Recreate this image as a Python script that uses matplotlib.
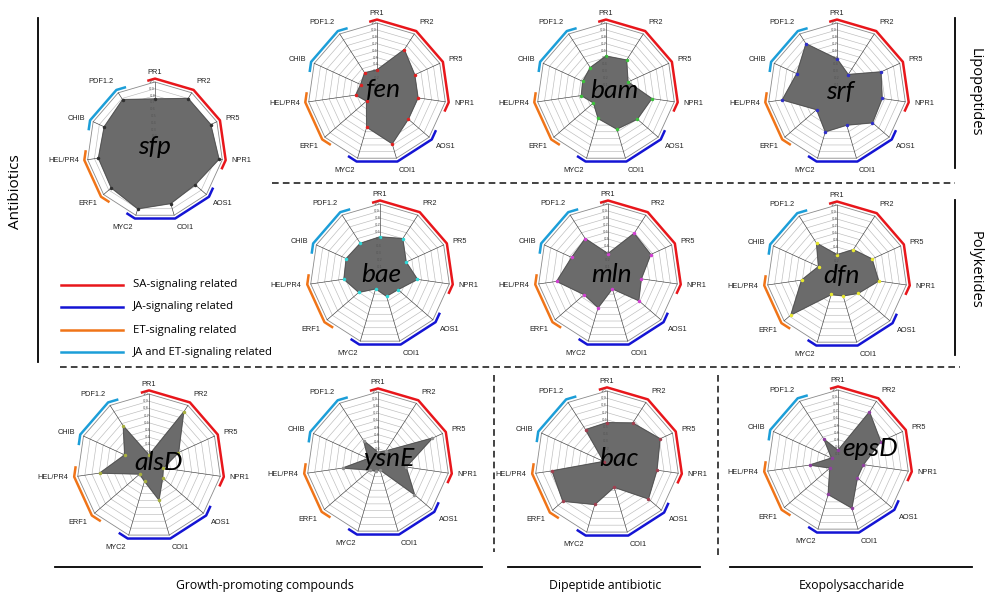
import numpy as np
import matplotlib.pyplot as plt

W, H = 987, 600

genes = ['PR1', 'PR2', 'PR5', 'NPR1', 'AOS1', 'COI1', 'MYC2', 'ERF1', 'HEL/PR4', 'CHIB', 'PDF1.2']

sfp = [0.75, 0.90, 0.90, 0.95, 0.78, 0.82, 0.90, 0.85, 0.84, 0.82, 0.88]
fen = [0.32, 0.73, 0.60, 0.60, 0.60, 0.78, 0.53, 0.20, 0.31, 0.26, 0.33]
bam = [0.52, 0.55, 0.35, 0.67, 0.60, 0.56, 0.40, 0.24, 0.36, 0.37, 0.42]
srf = [0.48, 0.30, 0.70, 0.66, 0.68, 0.50, 0.60, 0.39, 0.80, 0.64, 0.83]
bae = [0.53, 0.60, 0.41, 0.54, 0.34, 0.33, 0.22, 0.40, 0.52, 0.53, 0.52]
mln = [0.29, 0.69, 0.67, 0.48, 0.58, 0.22, 0.50, 0.45, 0.74, 0.57, 0.60]
dfn = [0.29, 0.43, 0.55, 0.60, 0.40, 0.31, 0.29, 0.87, 0.51, 0.29, 0.54]
alsD = [0.15, 0.89, 0.45, 0.20, 0.25, 0.49, 0.22, 0.17, 0.69, 0.37, 0.66]
ysnE = [0.15, 0.20, 0.84, 0.40, 0.68, 0.10, 0.12, 0.15, 0.50, 0.15, 0.37]
bac = [0.56, 0.66, 0.81, 0.70, 0.76, 0.35, 0.60, 0.81, 0.77, 0.05, 0.55]
epsD = [0.15, 0.82, 0.66, 0.36, 0.36, 0.69, 0.49, 0.15, 0.40, 0.10, 0.36]

# (name, values, marker colour, centre x, centre y, radius, name shift x, y) in pixels
charts = [
    ('sfp', sfp, '#303030', 155, 150, 68, 0, -3),
    ('fen', fen, '#e02020', 377, 92, 69, 7, -2),
    ('bam', bam, '#3cc03c', 606, 92, 69, 8, -2),
    ('srf', srf, '#3030c8', 837, 92, 69, 3, -1),
    ('bae', bae, '#30d8d8', 380, 274, 70, 1, 0),
    ('mln', mln, '#d040d0', 608, 274, 70, 4, 0),
    ('dfn', dfn, '#e8e830', 837, 275, 70, 5, 0),
    ('alsD', alsD, '#a8b040', 149, 466, 72, 10, -3),
    ('ysnE', ysnE, '#909090', 378, 463, 71, 11, -4),
    ('bac', bac, '#a04050', 607, 463, 72, 12, -5),
    ('epsD', epsD, '#9040a0', 838, 461, 71, 32, -13),
]

# signalling groups as fractional vertex index ranges
groups = [
    ('SA-signaling related', '#e8161b', -0.2, 3.25),
    ('JA-signaling related', '#1414d4', 3.75, 6.25),
    ('ET-signaling related', '#f07418', 6.75, 8.25),
    ('JA and ET-signaling related', '#1c9ed8', 8.75, 10.25),
]

n = len(genes)
theta = np.arange(n) * 2 * np.pi / n
theta_c = np.append(theta, theta[0])


def edge_point(k, R):
    i = int(np.floor(k)) % n
    j = (i + 1) % n
    f = k - np.floor(k)
    x = (1 - f) * R * np.sin(theta[i]) + f * R * np.sin(theta[j])
    y = (1 - f) * R * np.cos(theta[i]) + f * R * np.cos(theta[j])
    return np.arctan2(x, y), np.hypot(x, y)


def bracket(ax, k0, k1, color, R=1.05):
    ts, rs = [], []
    t, r = edge_point(k0, R)
    ts.append(t); rs.append(r)
    for k in range(int(np.ceil(k0)), int(np.floor(k1)) + 1):
        ts.append(theta[k % n]); rs.append(R)
    t, r = edge_point(k1, R)
    ts.append(t); rs.append(r)
    ax.plot(ts, rs, color=color, lw=1.8, solid_capstyle='butt', clip_on=False)


def radar(name, vals, mcol, cx, cy, R, nx, ny):
    lim = 1.15
    half = R * lim
    rect = [(cx - half) / W, 1 - (cy + half) / H, 2 * half / W, 2 * half / H]
    ax = fig.add_axes(rect, projection='polar')
    ax.set_theta_zero_location('N')
    ax.set_theta_direction(-1)
    ax.set_ylim(0, lim)
    ax.grid(False)
    ax.spines['polar'].set_visible(False)
    ax.set_xticks([])
    ax.set_yticks([])
    ax.patch.set_alpha(0)

    v = np.append(vals, vals[0])
    ax.fill(theta_c, v, color='#6b6b6b', zorder=2)
    ax.plot(theta_c, v, color='#505050', lw=0.5, zorder=3)
    ax.plot(theta, vals, ls='none', marker='o', ms=1.5, mfc=mcol, mec=mcol, zorder=4)

    for lev in np.arange(1, 11) / 10:
        ax.plot(theta_c, [lev] * (n + 1), color='#8a8a8a' if lev == 1 else '#bbbbbb',
                lw=0.6 if lev == 1 else 0.45, zorder=1)
    for t in theta:
        ax.plot([t, t], [0, 1], color='#3a3a3a', lw=0.45, zorder=1)
    for lev in np.arange(1, 11) / 10:
        ax.text(-0.05, lev, '%g' % lev if lev < 1 else '1.0', fontsize=2.6,
                color='#555555', ha='center', va='center', zorder=5)

    for label, color, k0, k1 in groups:
        bracket(ax, k0, k1, color)

    for t, g in zip(theta, genes):
        sx, cy_ = np.sin(t), np.cos(t)
        ha = 'left' if sx > 0.15 else ('right' if sx < -0.15 else 'center')
        va = 'bottom' if cy_ > 0.5 else ('top' if cy_ < -0.5 else 'center')
        rr = 1.09 if t == 0 else 1.13
        ax.text(t, rr, g, fontsize=5.3, family='Liberation Sans', color='#222222',
                ha=ha, va=va, clip_on=False)

    # gene name in the middle, nudged in pixels (1 px = 0.72 pt at 100 dpi)
    ax.annotate(name, xy=(0, 0), xytext=(nx * 0.72, -ny * 0.72), textcoords='offset points',
                fontsize=19, style='italic', family='Lato', color='black',
                ha='center', va='center', zorder=6, annotation_clip=False)


fig = plt.figure(figsize=(W / 100, H / 100), dpi=100)

bg = fig.add_axes([0, 0, 1, 1])
bg.set_xlim(0, W)
bg.set_ylim(H, 0)
bg.axis('off')

txt = dict(family='Open Sans', color='black')

# section frame lines
bg.plot([38, 38], [18, 362], color='black', lw=1.3)
bg.text(16, 192, 'Antibiotics', rotation=90, fontsize=11, ha='center', va='center', **txt)
bg.plot([955, 955], [18, 168], color='black', lw=1.3)
bg.text(975, 92, 'Lipopeptides', rotation=-90, fontsize=10.5, ha='center', va='center', **txt)
bg.plot([955, 955], [200, 355], color='black', lw=1.3)
bg.text(975, 270, 'Polyketides', rotation=-90, fontsize=10.5, ha='center', va='center', **txt)

bg.plot([272, 955], [183, 183], color='#222222', lw=1.2, ls=(0, (4, 2.5)))
bg.plot([60, 960], [367, 367], color='#222222', lw=1.2, ls=(0, (4, 2.5)))
bg.plot([494, 494], [375, 552], color='#222222', lw=1.2, ls=(0, (4, 2.5)))
bg.plot([718, 718], [375, 556], color='#222222', lw=1.2, ls=(0, (4, 2.5)))

bg.plot([55, 482], [567, 567], color='black', lw=1.3)
bg.plot([508, 700], [567, 567], color='black', lw=1.3)
bg.plot([730, 972], [567, 567], color='black', lw=1.3)
bg.text(265, 585, 'Growth-promoting compounds', fontsize=8.8, ha='center', va='center', **txt)
bg.text(605, 585, 'Dipeptide antibiotic', fontsize=8.8, ha='center', va='center', **txt)
bg.text(852, 585, 'Exopolysaccharide', fontsize=8.8, ha='center', va='center', **txt)

# legend for the coloured brackets
for i, (label, color, k0, k1) in enumerate(groups):
    y = [285, 307, 330, 352][i]
    bg.plot([61, 123], [y, y], color=color, lw=1.8)
    bg.text(133, y, label, fontsize=8.2, ha='left', va='center', **txt)

for c in charts:
    radar(*c)

fig.savefig('out.png', dpi=100)
